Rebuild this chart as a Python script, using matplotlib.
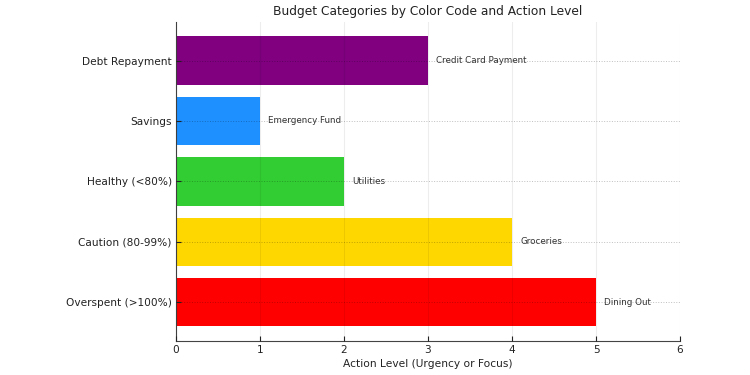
import matplotlib
matplotlib.use("Agg")
import matplotlib.pyplot as plt

categories = ["Overspent (>100%)", "Caution (80-99%)", "Healthy (<80%)", "Savings", "Debt Repayment"]
action_levels = [5, 4, 2, 1, 3]
examples = ["Dining Out", "Groceries", "Utilities", "Emergency Fund", "Credit Card Payment"]
colors = ["red", "gold", "limegreen", "dodgerblue", "purple"]

fig = plt.figure(figsize=(7.5, 3.75), dpi=100)
ax = fig.add_axes([0.2347, 0.0907, 0.672, 0.851])

ax.barh(categories, action_levels, color=colors, height=0.8, zorder=2)
for i, (v, lab) in enumerate(zip(action_levels, examples)):
    ax.text(v + 0.1, i, lab, va="center", ha="left", fontsize=6.3, color="#333333", zorder=3)

ax.set_xlim(0, 6)
ax.set_xticks(range(0, 7))
ax.set_title("Budget Categories by Color Code and Action Level", fontsize=8.8, color="#222222", pad=5)
ax.set_xlabel("Action Level (Urgency or Focus)", fontsize=7.7, color="#222222", labelpad=3)
ax.tick_params(axis="both", direction="in", labelsize=7.6, colors="#222222", pad=3)
ax.xaxis.grid(True, color="#000000", alpha=0.07, linewidth=0.8, zorder=3)
ax.yaxis.grid(True, color="#000000", alpha=0.25, linestyle=":", linewidth=0.7, zorder=3)
ax.set_axisbelow(False)
for s in ["top", "right"]:
    ax.spines[s].set_visible(False)
for s in ["left", "bottom"]:
    ax.spines[s].set_color("#444444")
    ax.spines[s].set_linewidth(0.8)

fig.savefig("out.png", dpi=100)
